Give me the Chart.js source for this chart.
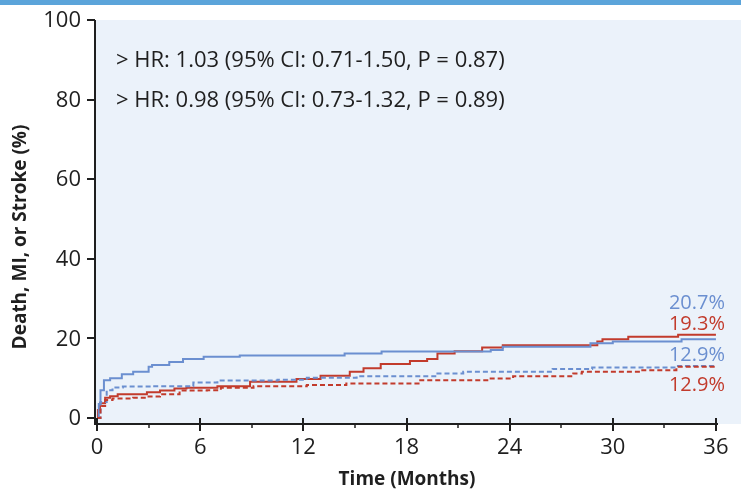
<!DOCTYPE html>
<html>
<head>
<meta charset="utf-8">
<script src="https://cdn.jsdelivr.net/npm/chart.js@4/dist/chart.umd.min.js"></script>
<style>
  html, body { margin: 0; padding: 0; background: #fff; }
  #wrap { position: relative; width: 741px; height: 492px; }
  #topbar { position: absolute; left: 0; top: 0; width: 741px; height: 5px; background: #5ba4da; }
</style>
</head>
<body>
<div id="wrap">
  <div id="topbar"></div>
  <canvas id="myChart" width="741" height="492"></canvas>
</div>
<script>
// time in months, cumulative event rate in %
const blueSolidT = [0, 0.1, 0.2, 0.4, 0.76, 1.44, 2.1, 3.0, 3.2, 4.2, 5.0, 6.2, 8.3, 14.4, 16.55, 22.9, 23.6, 28.7, 30.0, 34.0, 36];
const blueSolidV = [0, 3.5, 7.0, 9.5, 10.0, 11.0, 11.6, 12.9, 13.3, 14.1, 14.8, 15.4, 15.7, 16.2, 16.7, 17.1, 17.9, 18.8, 19.2, 19.8, 19.8];

const redSolidT = [0, 0.05, 0.17, 0.47, 0.76, 1.2, 2.9, 3.66, 4.5, 5.2, 7.0, 8.9, 11.6, 13.0, 14.7, 15.5, 16.5, 18.2, 19.2, 19.8, 20.8, 22.4, 23.6, 29.1, 29.4, 30.9, 33.8, 36];
const redSolidV = [0, 2.0, 3.7, 5.1, 5.5, 6.0, 6.5, 6.9, 7.4, 7.6, 8.0, 9.1, 9.8, 10.6, 11.6, 12.5, 13.6, 14.3, 14.8, 16.2, 16.8, 17.7, 18.3, 19.2, 19.8, 20.4, 20.9, 20.9];

const blueDashT = [0, 0.2, 0.56, 0.9, 1.5, 3.2, 5.6, 7.0, 10.5, 12.2, 15.1, 19.8, 21.3, 26.5, 28.8, 33.7, 36];
const blueDashV = [0, 4.0, 7.0, 7.7, 7.9, 8.0, 8.9, 9.4, 9.6, 10.1, 10.5, 11.2, 11.6, 12.3, 12.7, 13.1, 13.1];

const redDashT = [0, 0.2, 0.47, 0.9, 2.1, 2.9, 3.66, 4.8, 6.4, 7.2, 9.1, 12.2, 14.5, 18.7, 22.7, 24.2, 27.7, 28.2, 31.6, 33.7, 36];
const redDashV = [0, 3.0, 4.5, 4.9, 5.1, 5.4, 6.0, 6.9, 7.0, 7.6, 8.0, 8.3, 8.7, 9.5, 9.9, 10.5, 11.2, 11.6, 12.0, 12.9, 12.9];

const xTicks = [0, 6, 12, 18, 24, 30, 36];
const xMinorTicks = [3, 9, 15, 21, 27, 33];
const yTicks = [0, 20, 40, 60, 80, 100];

const hrLines = ['> HR: 1.03 (95% CI: 0.71-1.50, P = 0.87)', '> HR: 0.98 (95% CI: 0.73-1.32, P = 0.89)'];
const endLabels = ['20.7%', '19.3%', '12.9%', '12.9%'];

const BLUE = '#6b8fd0';
const RED = '#c23b2c';
const INK = '#1f1f1f';
const FONT = '"Open Sans", "Noto Sans", sans-serif';

const pts = (t, v) => t.map((x, i) => ({ x: x, y: v[i] }));

const decor = {
  id: 'decor',
  beforeDraw(chart) {
    const { ctx, chartArea } = chart;
    ctx.save();
    ctx.fillStyle = '#ebf2fa';
    ctx.fillRect(chartArea.left + 1, chartArea.top, chart.width - chartArea.left - 1, chartArea.bottom - chartArea.top);
    ctx.restore();
  },
  afterDraw(chart) {
    const { ctx, chartArea } = chart;
    const xs = chart.scales.x, ys = chart.scales.y;
    ctx.save();
    ctx.strokeStyle = INK;
    ctx.lineWidth = 2;
    // axes
    ctx.beginPath();
    ctx.moveTo(chartArea.left, chartArea.top);
    ctx.lineTo(chartArea.left, chartArea.bottom);
    ctx.lineTo(chartArea.right, chartArea.bottom);
    ctx.stroke();
    // y ticks
    yTicks.forEach(v => {
      const y = Math.round(ys.getPixelForValue(v));
      ctx.beginPath();
      ctx.moveTo(chartArea.left - 8, y);
      ctx.lineTo(chartArea.left, y);
      ctx.stroke();
    });
    // x ticks
    xTicks.forEach(v => {
      const x = Math.round(xs.getPixelForValue(v));
      ctx.beginPath();
      ctx.moveTo(x, chartArea.bottom - 6);
      ctx.lineTo(x, chartArea.bottom + 7);
      ctx.stroke();
    });
    ctx.lineWidth = 1.5;
    xMinorTicks.forEach(v => {
      const x = Math.round(xs.getPixelForValue(v));
      ctx.beginPath();
      ctx.moveTo(x, chartArea.bottom);
      ctx.lineTo(x, chartArea.bottom + 4);
      ctx.stroke();
    });

    // tick labels
    ctx.fillStyle = INK;
    ctx.font = '22px ' + FONT;
    ctx.textAlign = 'right';
    ctx.textBaseline = 'middle';
    yTicks.forEach(v => ctx.fillText(String(v), chartArea.left - 14, ys.getPixelForValue(v) + 1));
    ctx.textAlign = 'center';
    xTicks.forEach(v => ctx.fillText(String(v), xs.getPixelForValue(v), 448));

    // axis titles
    ctx.font = 'bold 19px ' + FONT;
    ctx.fillText('Time (Months)', 407, 480);
    ctx.save();
    ctx.translate(21, 237);
    ctx.rotate(-Math.PI / 2);
    ctx.fillText('Death, MI, or Stroke (%)', 0, 0);
    ctx.restore();

    // HR text
    ctx.font = '500 22px ' + FONT;
    ctx.textAlign = 'left';
    ctx.fillText(hrLines[0], 116, 61);
    ctx.fillText(hrLines[1], 116, 101);

    // end labels
    ctx.font = '20px ' + FONT;
    ctx.textAlign = 'right';
    const endY = [303, 324, 355, 385];
    const endC = [BLUE, RED, BLUE, RED];
    endLabels.forEach((s, i) => {
      ctx.fillStyle = endC[i];
      ctx.fillText(s, 725, endY[i]);
    });
    ctx.restore();
  }
};

const ctx = document.getElementById('myChart').getContext('2d');
const myChart = new Chart(ctx, {
  type: 'line',
  data: {
    datasets: [
      { data: pts(redDashT, redDashV), borderColor: RED, borderWidth: 2, borderDash: [5, 3], stepped: true, pointRadius: 0, fill: false },
      { data: pts(blueDashT, blueDashV), borderColor: BLUE, borderWidth: 2, borderDash: [5, 3], stepped: true, pointRadius: 0, fill: false },
      { data: pts(blueSolidT, blueSolidV), borderColor: BLUE, borderWidth: 2, stepped: true, pointRadius: 0, fill: false },
      { data: pts(redSolidT, redSolidV), borderColor: RED, borderWidth: 2, stepped: true, pointRadius: 0, fill: false },
    ],
  },
  options: {
    responsive: false,
    animation: false,
    layout: { padding: { top: 20, right: 23, left: 0, bottom: 0 } },
    plugins: { legend: { display: false }, tooltip: { enabled: false } },
    scales: {
      x: {
        type: 'linear', min: -0.12, max: 36.12,
        grid: { display: false }, border: { display: false },
        ticks: { display: false },
        afterFit: (s) => { s.height = 68; },
      },
      y: {
        min: -1.5, max: 100,
        grid: { display: false }, border: { display: false },
        ticks: { display: false },
        afterFit: (s) => { s.width = 95; },
      },
    },
  },
  plugins: [decor],
});
</script>
</body>
</html>
